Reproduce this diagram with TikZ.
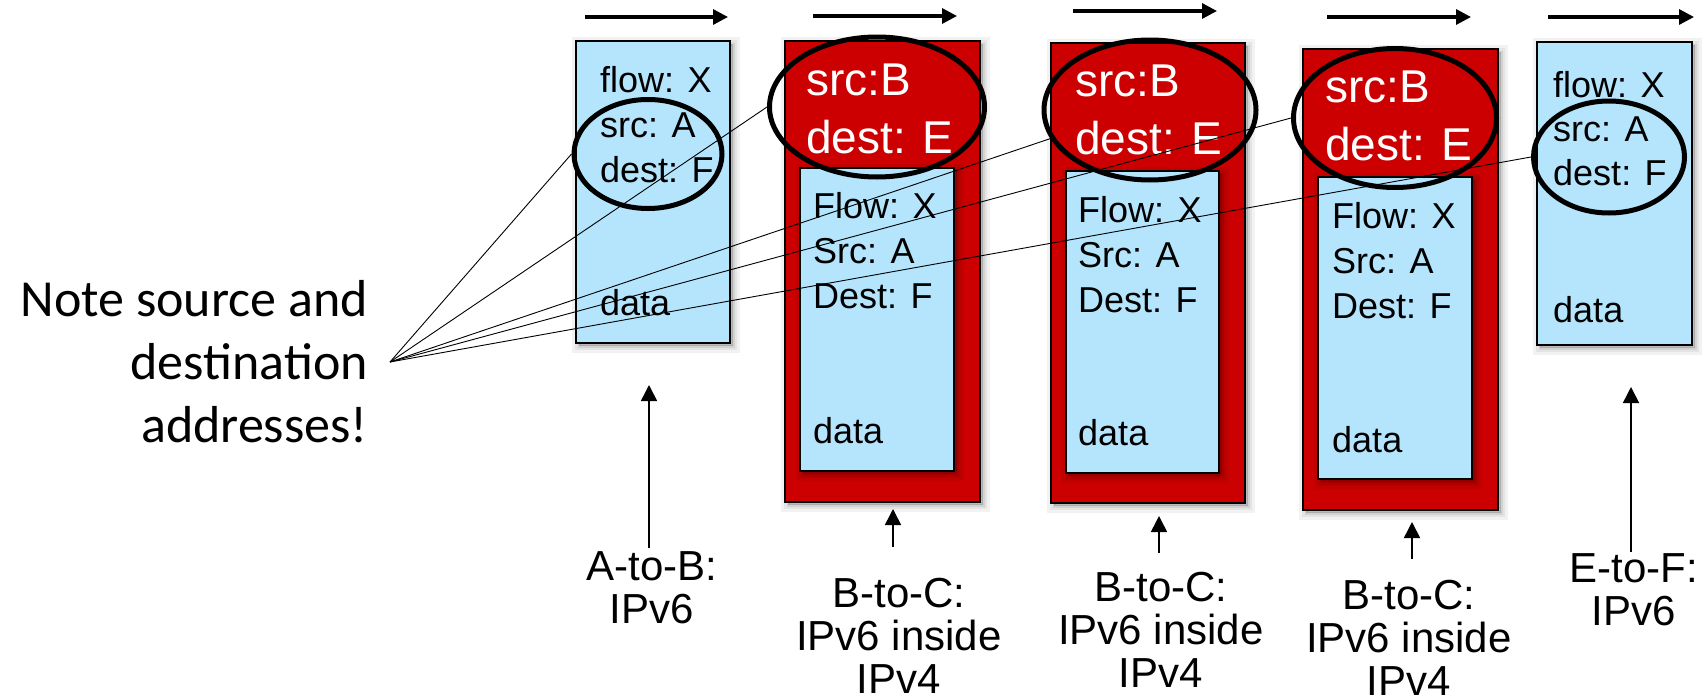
\documentclass[tikz,border=0pt]{standalone}
\usepackage{fontspec}
\setmainfont{Liberation Sans}
\newfontfamily\calibrifont{Carlito}
\usetikzlibrary{shapes.geometric,arrows.meta,shadows}
\definecolor{pktblue}{RGB}{180,229,252}
\definecolor{pktred}{RGB}{204,0,0}
\begin{document}
\begin{tikzpicture}[x=1pt,y=-1pt,
  softshadow/.style={
    general shadow={shadow xshift=3pt, shadow yshift=-3pt, fill=black, draw=black, line width=14pt, fill opacity=0.05, draw opacity=0.05},
    general shadow={shadow xshift=3pt, shadow yshift=-3pt, fill=black, draw=black, line width=8pt, fill opacity=0.06, draw opacity=0.06},
    general shadow={shadow xshift=3pt, shadow yshift=-3pt, fill=black, draw=black, line width=3pt, fill opacity=0.08, draw opacity=0.08}},
  bluebox/.style={rectangle, draw=black, line width=1.5pt, fill=pktblue, inner sep=0pt, softshadow},
  redbox/.style={rectangle, draw=black, line width=1.5pt, fill=pktred, inner sep=0pt, softshadow},
  ring/.style={ellipse, draw=black, line width=5pt, inner sep=0pt},
  hdr/.style={anchor=base west, align=left, inner sep=0pt, font=\fontsize{36}{45}\selectfont},
  redtxt/.style={anchor=base west, align=left, inner sep=0pt, text=white, font=\fontsize{46}{58}\selectfont},
  lbl/.style={anchor=base, align=center, inner sep=0pt, font=\fontsize{42}{43}\selectfont},
  flowarrow/.style={line width=3.3pt, -{Triangle[length=15pt,width=15pt]}},
  uparrow/.style={line width=1.6pt, -{Triangle[length=16pt,width=16pt]}},
  leader/.style={line width=0.9pt},
]
\useasboundingbox (0,0) rectangle (1703,696);

% packet 1: A-to-B  (text nodes anchored on the baseline of their last line)
\node[bluebox, minimum width=154pt, minimum height=302pt] (p1) at (653,192) {};
\node[hdr] (p1h) at (600,182) {flow: X\\src: A\\dest: F};
\node[hdr] (p1d) at (600,315) {data};

% packet 2
\node[redbox, minimum width=195pt, minimum height=461pt] (r2) at (882.5,271.5) {};
\node[bluebox, minimum width=154pt, minimum height=303pt] (i2) at (877,319.5) {};
\node[redtxt] (r2h) at (806,153) {src:B\\dest: E};
\node[hdr] (i2h) at (813,308) {Flow: X\\Src: A\\Dest: F};
\node[hdr] (i2d) at (813,443) {data};

% packet 3
\node[redbox, minimum width=194pt, minimum height=460pt] (r3) at (1148,273) {};
\node[bluebox, minimum width=153pt, minimum height=302pt] (i3) at (1142.5,322) {};
\node[redtxt] (r3h) at (1075,154) {src:B\\dest: E};
\node[hdr] (i3h) at (1078,312) {Flow: X\\Src: A\\Dest: F};
\node[hdr] (i3d) at (1078,445) {data};

% packet 4
\node[redbox, minimum width=195pt, minimum height=461pt] (r4) at (1400.5,279.5) {};
\node[bluebox, minimum width=154pt, minimum height=302pt] (i4) at (1395,328) {};
\node[redtxt] (r4h) at (1325,160) {src:B\\dest: E};
\node[hdr] (i4h) at (1332,318) {Flow: X\\Src: A\\Dest: F};
\node[hdr] (i4d) at (1332,452) {data};

% packet 5: E-to-F
\node[bluebox, minimum width=155pt, minimum height=303pt] (p5) at (1614.5,193.5) {};
\node[hdr, font=\fontsize{36}{44}\selectfont] (p5h) at (1553,185) {flow: X\\src: A\\dest: F};
\node[hdr] (p5d) at (1553,322) {data};

% ellipses
\node[ring, minimum width=148pt, minimum height=109pt] (e1) at (648,154) {};
\node[ring, minimum width=215pt, minimum height=140pt] (e2) at (877,107) {};
\node[ring, minimum width=212pt, minimum height=140pt] (e3) at (1150,110) {};
\node[ring, minimum width=203pt, minimum height=139pt] (e4) at (1395,118) {};
\node[ring, minimum width=151pt, minimum height=112pt] (e5) at (1609,157) {};

% note
\node[anchor=base east, align=right, inner sep=0pt, font=\calibrifont\fontsize{52}{63}\selectfont] (note) at (368,442) {Note source and\\destination\\addresses!};
\coordinate (conv) at (390,362);
\foreach \t in {e1.west, e2.west, e3.196, e4.west, e5.west}
  \draw[leader] (conv) -- (\t);

% direction arrows
\draw[flowarrow] (585,17) -- (728,17);
\draw[flowarrow] (813,16) -- (957,16);
\draw[flowarrow] (1073,11) -- (1217,11);
\draw[flowarrow] (1327,17) -- (1471,17);
\draw[flowarrow] (1548,17) -- (1694,17);

% labels
\node[lbl] (l1) at (652,623) {A-to-B:\\IPv6};
\node[lbl] (l2) at (899,693) {B-to-C:\\IPv6 inside\\IPv4};
\node[lbl] (l3) at (1161,687) {B-to-C:\\IPv6 inside\\IPv4};
\node[lbl] (l4) at (1409,695) {B-to-C:\\IPv6 inside\\IPv4};
\node[lbl] (l5) at (1634,625) {E-to-F:\\IPv6};

\draw[uparrow] (649,548) -- (649,385);
\draw[uparrow] (893,547) -- (893,509);
\draw[uparrow] (1159,553) -- (1159,516);
\draw[uparrow] (1412,559) -- (1412,522);
\draw[uparrow] (1631,552) -- (1631,387);
\end{tikzpicture}
\end{document}
